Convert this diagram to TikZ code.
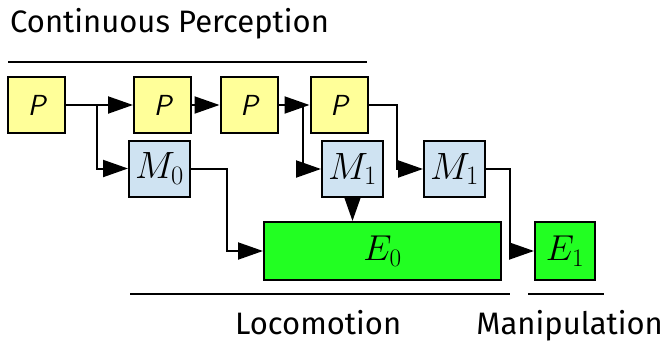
\RequirePackage{fix-cm}
\documentclass[tikz,border=0pt]{standalone}
\usepackage{fontspec}
\setmainfont{Fira Sans}
\usetikzlibrary{arrows.meta}
\definecolor{pyel}{HTML}{FFFF99}
\definecolor{mblue}{HTML}{CFE3F2}
\definecolor{egreen}{HTML}{22FF22}
\tikzset{
  box/.style={draw=black, line width=2pt, inner sep=0pt, minimum height=56pt},
  pbox/.style={box, fill=pyel, minimum width=57pt, font=\fontsize{29}{30}\selectfont\sffamily\itshape},
  mbox/.style={box, fill=mblue, minimum width=61pt, font=\fontsize{38}{40}\selectfont},
  ebox/.style={box, fill=egreen, font=\fontsize{36}{38}\selectfont},
  conn/.style={line width=2pt, -{Triangle[length=25pt,width=17pt]}},
  rule/.style={line width=2pt},
  lbl/.style={font=\fontsize{31}{32}\selectfont, inner sep=0pt, anchor=base west},
}
\begin{document}
\begin{tikzpicture}[x=1pt,y=-1pt]
\useasboundingbox (0,0) rectangle (665,343);
\node[lbl] (tcp) at (10,32) {Continuous Perception};
\node[lbl] (tloc) at (235,334) {Locomotion};
\node[lbl, anchor=base east] (tman) at (663,334) {Manipulation};
\coordinate (r1a) at (8,62); \coordinate (r1b) at (367,62);
\coordinate (r2a) at (130,294); \coordinate (r2b) at (510,294);
\coordinate (r3a) at (528,294); \coordinate (r3b) at (604,294);
\draw[rule] (r1a) -- (r1b);
\draw[rule] (r2a) -- (r2b);
\draw[rule] (r3a) -- (r3b);

\node[pbox] (p1) at (36.5,105) {P};
\node[pbox] (p2) at (162.5,105) {P};
\node[pbox] (p3) at (249,105) {P};
\node[pbox] (p4) at (339,105) {P};
\node[mbox] (m0) at (159.5,168.5) {$M_0$};
\node[mbox] (m1) at (352.5,169) {$M_1$};
\node[mbox] (m2) at (454.5,169) {$M_1$};
\node[ebox, minimum width=237pt, minimum height=58pt] (e0) at (382.5,251) {$E_0$};
\node[ebox, minimum width=60pt, minimum height=58pt] (e1) at (565,251) {$E_1$};

\draw[conn] (p1.east) -- (p2.west);
\draw[conn] (p2.east) -- (p3.west);
\draw[conn] (p3.east) -- (p4.west);
\draw[conn] (97,105) |- (m0.west);
\draw[conn] (303,105) |- (m1.west);
\draw[conn] (p4.east) -- (397,105) |- (m2.west);
\draw[conn] (m0.east) -- (227,168.5) |- (e0.west);
\draw[conn] (m1.south) -- (m1.south |- e0.north);
\draw[conn] (m2.east) -- (510,169) |- (e1.west);
\end{tikzpicture}
\end{document}
